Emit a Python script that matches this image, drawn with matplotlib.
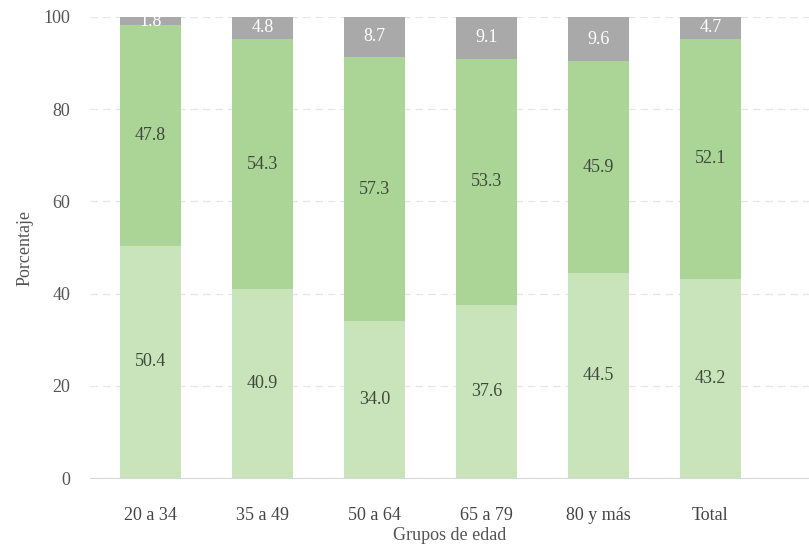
import numpy as np
import matplotlib.pyplot as plt

grupos = ['20 a 34', '35 a 49', '50 a 64', '65 a 79', '80 y más', 'Total']
bajo = [50.4, 40.9, 34.0, 37.6, 44.5, 43.2]
medio = [47.8, 54.3, 57.3, 53.3, 45.9, 52.1]
alto = [1.8, 4.8, 8.7, 9.1, 9.6, 4.7]

plt.rcParams['font.family'] = ['Liberation Serif', 'DejaVu Serif']

fig = plt.figure(figsize=(8.09, 5.44), dpi=100)
ax = fig.add_axes([0.111, 0.121, 0.889, 0.848])

x = np.arange(len(grupos))
w = 0.54
b1 = ax.bar(x, bajo, w, color='#c9e4bb', zorder=2)
b2 = ax.bar(x, medio, w, bottom=bajo, color='#abd597', zorder=2)
b3 = ax.bar(x, alto, w, bottom=np.array(bajo) + np.array(medio), color='#a9a9a9', zorder=2)

ax.bar_label(b1, labels=['%.1f' % v for v in bajo], label_type='center', color='#3e4a3a', fontsize=13)
ax.bar_label(b2, labels=['%.1f' % v for v in medio], label_type='center', color='#3e4a3a', fontsize=13)
ax.bar_label(b3, labels=['%.1f' % v for v in alto], label_type='center', color='white', fontsize=13)

ax.set_xlim(-0.54, 5.88)
ax.set_ylim(0, 100)
ax.set_yticks([0, 20, 40, 60, 80, 100])
ax.set_xticks(x)
ax.set_xticklabels(grupos)
ax.tick_params(axis='y', length=0, labelsize=13, colors='#555555', pad=14)
ax.tick_params(axis='x', length=0, labelsize=13, colors='#444444', pad=21)
ax.yaxis.grid(True, linestyle=(0, (6, 4)), color='#e6e6e6', linewidth=0.9, zorder=0)
for s in ['top', 'right', 'left']:
    ax.spines[s].set_visible(False)
ax.spines['bottom'].set_color('#d8d8d8')
ax.set_xlabel('Grupos de edad', fontsize=13, color='#555555', labelpad=2)
ax.set_ylabel('Porcentaje', fontsize=13, color='#555555', labelpad=7)

fig.savefig('out.png', dpi=100)
